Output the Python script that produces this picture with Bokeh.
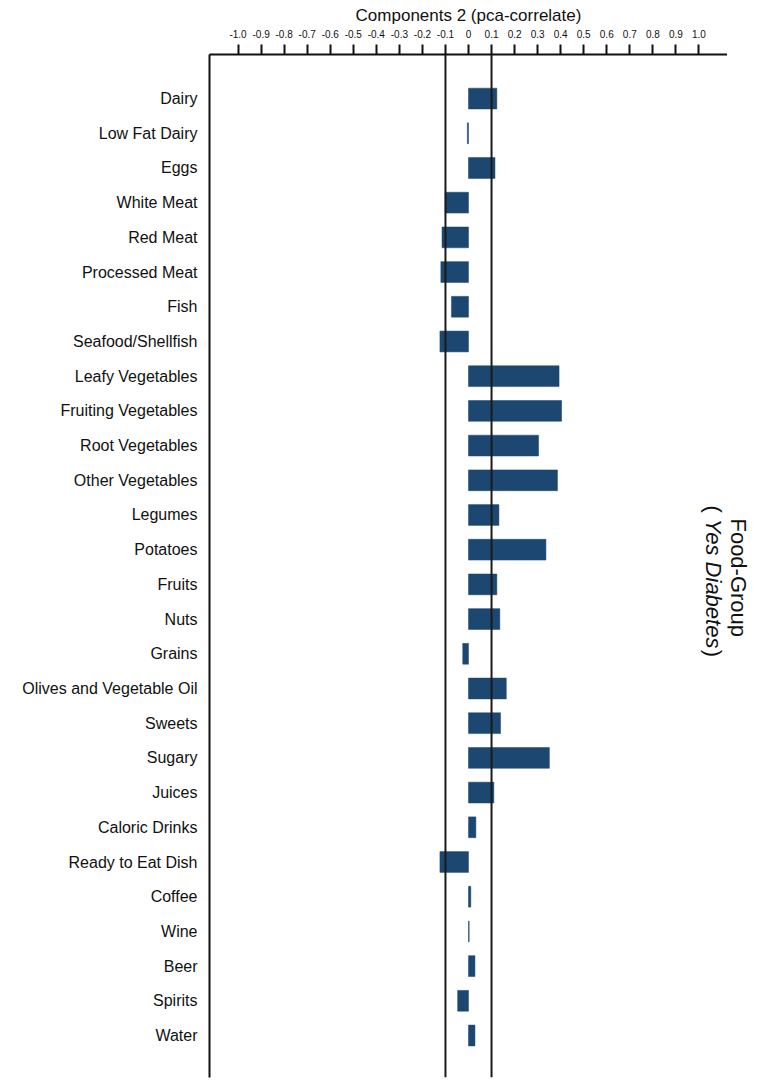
import math
from bokeh.plotting import figure
from bokeh.layouts import row
from bokeh.models import (ColumnDataSource, Range1d, FixedTicker, Span, Label,
                          CustomJSTickFormatter)
from bokeh.embed import file_html
from bokeh.resources import INLINE

# ---- data ----
food_groups = [
    "Dairy", "Low Fat Dairy", "Eggs", "White Meat", "Red Meat", "Processed Meat",
    "Fish", "Seafood/Shellfish", "Leafy Vegetables", "Fruiting Vegetables",
    "Root Vegetables", "Other Vegetables", "Legumes", "Potatoes", "Fruits", "Nuts",
    "Grains", "Olives and Vegetable Oil", "Sweets", "Sugary", "Juices",
    "Caloric Drinks", "Ready to Eat Dish", "Coffee", "Wine", "Beer", "Spirits", "Water",
]
component2 = [
    0.123, -0.005, 0.115, -0.101, -0.115, -0.120,
    -0.074, -0.124, 0.393, 0.404,
    0.304, 0.386, 0.132, 0.336, 0.123, 0.136,
    -0.025, 0.164, 0.139, 0.351, 0.110,
    0.032, -0.124, 0.010, 0.003, 0.028, -0.047, 0.028,
]
x_ticks = [round(i / 10, 1) for i in range(-10, 11)]
ref_lines = [-0.1, 0.1]

FONT = "Liberation Sans"
BAR_COLOR = "#1b4770"
INK = "#111111"

idx = list(range(len(food_groups)))
src = ColumnDataSource(dict(y=idx, right=component2, name=food_groups))

H = 1083
yr = Range1d(28.21, -1.27)
p = figure(width=727, height=H, output_backend="svg", toolbar_location=None,
           x_range=Range1d(-1.124, 1.124), y_range=yr,
           x_axis_location="above",
           min_border_left=209, min_border_right=0, min_border_top=54,
           min_border_bottom=6)
p.outline_line_color = None
p.xgrid.visible = False
p.ygrid.visible = False

p.hbar(y="y", left=0, right="right", height=0.6, source=src,
       fill_color=BAR_COLOR, line_color=BAR_COLOR, line_width=0.5)

for v in ref_lines:
    p.add_layout(Span(location=v, dimension="height", line_color="#1a1a1a",
                      line_width=2))

# top axis
xa = p.xaxis[0]
xa.ticker = FixedTicker(ticks=x_ticks)
xa.formatter = CustomJSTickFormatter(code="return tick == 0 ? '0' : tick.toFixed(1);")
xa.axis_label = "Components 2 (pca-correlate)"
xa.axis_label_text_font = FONT
xa.axis_label_text_font_size = "17px"
xa.axis_label_text_font_style = "normal"
xa.axis_label_text_color = INK
xa.axis_label_standoff = 2
xa.major_label_text_font = FONT
xa.major_label_text_font_size = "10px"
xa.major_label_text_color = INK
xa.major_label_standoff = 7
xa.major_tick_out = 10
xa.major_tick_in = 0
xa.minor_tick_out = 0
xa.minor_tick_in = 0
xa.axis_line_width = 2
xa.major_tick_line_width = 2
xa.axis_line_color = INK
xa.major_tick_line_color = INK

# left axis
ya = p.yaxis[0]
ya.ticker = FixedTicker(ticks=idx)
ya.major_label_overrides = {i: n for i, n in zip(idx, food_groups)}
ya.major_label_text_font = FONT
ya.major_label_text_font_size = "16px"
ya.major_label_text_color = INK
ya.major_label_standoff = 12
ya.major_tick_out = 0
ya.major_tick_in = 0
ya.minor_tick_out = 0
ya.minor_tick_in = 0
ya.axis_line_width = 2
ya.axis_line_color = INK

# right side rotated label, second line (inside main frame)
rot = -math.pi / 2
for txt, yy, style in [("(", 11.73, "normal"), ("Yes Diabetes", 12.11, "italic"),
                       (")", 15.88, "normal")]:
    p.add_layout(Label(x=1.063, y=yy, text=txt, angle=rot,
                       text_font=FONT, text_font_size="22px", text_color=INK,
                       text_font_style=style,
                       text_align="left", text_baseline="middle"))

# narrow strip on the right for the first line of the side title
p2 = figure(width=33, height=H, output_backend="svg", toolbar_location=None,
            x_range=Range1d(0, 33), y_range=yr,
            x_axis_location=None, y_axis_location=None,
            min_border_left=0, min_border_right=0, min_border_top=54,
            min_border_bottom=6)
p2.outline_line_color = None
p2.xgrid.visible = False
p2.ygrid.visible = False
p2.add_layout(Label(x=11, y=12.10, text="Food-Group", angle=rot,
                    text_font=FONT, text_font_size="22px", text_color=INK,
                    text_align="left", text_baseline="middle"))

layout = row(p, p2, spacing=0)
open("out.html", "w").write(file_html(layout, INLINE))
